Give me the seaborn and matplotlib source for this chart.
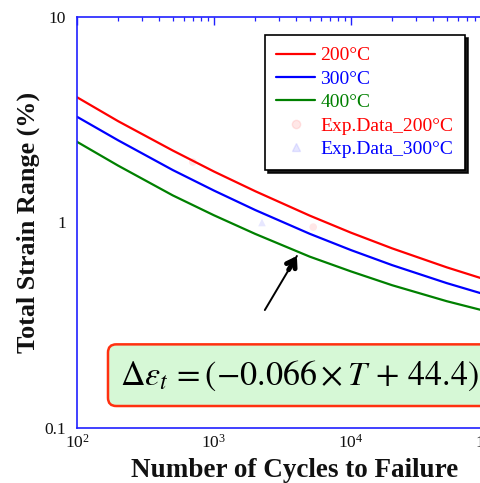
import numpy as np
import pandas as pd
import matplotlib
matplotlib.use("Agg")
import matplotlib.pyplot as plt
import seaborn as sns
from matplotlib.patches import FancyBboxPatch
from matplotlib.ticker import LogLocator, NullFormatter, FixedLocator, FixedFormatter
from matplotlib.lines import Line2D

# ---- data ----
cycles = [100, 200, 500, 1000, 2000, 5000, 10000, 20000, 50000, 100000]
strain_200 = [4.07, 3.11, 2.24, 1.77, 1.42, 1.08, 0.892, 0.748, 0.605, 0.523]
strain_300 = [3.27, 2.51, 1.80, 1.43, 1.15, 0.881, 0.734, 0.620, 0.507, 0.442]
strain_400 = [2.47, 1.89, 1.355, 1.084, 0.880, 0.682, 0.578, 0.495, 0.414, 0.368]
series_labels = ["200°C", "300°C", "400°C"]
series_colors = ["#ff0000", "#0000ff", "#008000"]

exp_200_cycles = [700, 5300]
exp_200_strain = [1.97, 0.95]
exp_300_cycles = [2240]
exp_300_strain = [1.0]
exp_labels = ["Exp.Data_200°C", "Exp.Data_300°C"]

y_ticks = [0.1, 1, 10]
y_ticklabels = ["0.1", "1", "10"]
formula = r"$\Delta\varepsilon_t\,=(-0.066\times T\,+\,44.4)$"

sns.set_theme(style="white")
plt.rcParams["font.family"] = ["Liberation Serif", "DejaVu Serif"]
plt.rcParams["mathtext.fontset"] = "stix"

df = pd.DataFrame({
    "cycles": cycles * 3,
    "strain": strain_200 + strain_300 + strain_400,
    "series": [series_labels[0]] * len(cycles) + [series_labels[1]] * len(cycles) + [series_labels[2]] * len(cycles),
})
df_exp = pd.DataFrame({
    "cycles": exp_200_cycles + exp_300_cycles,
    "strain": exp_200_strain + exp_300_strain,
    "series": [exp_labels[0]] * len(exp_200_cycles) + [exp_labels[1]] * len(exp_300_cycles),
})

W, H = 481, 483
fig = plt.figure(figsize=(W / 100, H / 100), dpi=100)
fig.patch.set_facecolor("white")
ax = fig.add_axes([77 / W, (H - 428) / H, 411 / W, 411 / H])

sns.lineplot(data=df, x="cycles", y="strain", hue="series", palette=series_colors,
             linewidth=1.6, ax=ax, legend=False, sort=True)
sns.scatterplot(data=df_exp, x="cycles", y="strain", hue="series",
                palette=["#ff6060", "#6060ff"], style="series", markers=["o", "^"],
                s=30, alpha=0.15, edgecolor="none", ax=ax, legend=False)

ax.set_xscale("log")
ax.set_yscale("log")
ax.set_xlim(1e2, 1e5)
ax.set_ylim(0.1, 10)

ax.yaxis.set_major_locator(FixedLocator(y_ticks))
ax.yaxis.set_major_formatter(FixedFormatter(y_ticklabels))
ax.yaxis.set_minor_locator(LogLocator(base=10, subs=np.arange(2, 10)))
ax.yaxis.set_minor_formatter(NullFormatter())
ax.xaxis.set_major_locator(LogLocator(base=10, numticks=10))
ax.xaxis.set_minor_locator(LogLocator(base=10, subs=np.arange(2, 10), numticks=20))
ax.xaxis.set_minor_formatter(NullFormatter())

for s in ax.spines.values():
    s.set_color("#2020ff")
    s.set_linewidth(1.2)
ax.tick_params(which="both", direction="in", color="#2020ff", top=True, right=True,
               labelsize=12.5, labelcolor="#111111")
ax.tick_params(which="major", length=6, width=1.0)
ax.tick_params(axis="y", which="major", pad=8)
ax.tick_params(axis="x", which="major", pad=4)
ax.tick_params(which="minor", length=3, width=0.9)

ax.set_xlabel("Number of Cycles to Failure", fontsize=19.5, fontweight="bold", color="#111111")
ax.set_ylabel("Total Strain Range (%)", fontsize=18.8, fontweight="bold", color="#111111")
ax.xaxis.set_label_coords(0.530, -0.074)
ax.yaxis.set_label_coords(-0.09, 0.5)

# legend
handles = [Line2D([], [], color=c, lw=1.6) for c in series_colors]
handles += [Line2D([], [], ls="none", marker="o", color="#ff6060", alpha=0.15, ms=6),
            Line2D([], [], ls="none", marker="^", color="#6060ff", alpha=0.15, ms=6)]
labels = series_labels + exp_labels
leg = ax.legend(handles, labels, loc="upper left", bbox_to_anchor=(0.457, 0.956),
                borderaxespad=0, fontsize=14, frameon=True, fancybox=False,
                handlelength=2.0, handletextpad=0.26, labelspacing=0.3,
                borderpad=0.6, shadow={"color": "black", "alpha": 0.9})
leg.get_frame().set_edgecolor("black")
leg.get_frame().set_linewidth(1.2)
for t, c in zip(leg.get_texts(), series_colors + ["#ff0000", "#0000ff"]):
    t.set_color(c)

# formula box
box = FancyBboxPatch((0.0754, 0.0535), 1.2, 0.150, transform=ax.transAxes,
                     boxstyle="round,pad=0,rounding_size=0.02",
                     facecolor="#d6f8d6", edgecolor="#ff3010", linewidth=1.8,
                     clip_on=False, zorder=5)
ax.add_patch(box)
ax.text(0.105, 0.128, formula, transform=ax.transAxes, fontsize=24.5,
        va="center", ha="left", color="black", zorder=6, clip_on=False)

# arrow
ax.annotate("", xy=(0.535, 0.4185), xytext=(0.457, 0.287), xycoords="axes fraction",
            arrowprops=dict(arrowstyle="-", lw=1.4, color="black", shrinkA=0, shrinkB=0))
ax.annotate("", xy=(0.535, 0.4185), xytext=(0.515, 0.385), xycoords="axes fraction",
            arrowprops=dict(arrowstyle="->,head_length=0.45,head_width=0.3", lw=3.5,
                            color="black", shrinkA=0, shrinkB=0))

fig.savefig("out.png", dpi=100, facecolor="white")
